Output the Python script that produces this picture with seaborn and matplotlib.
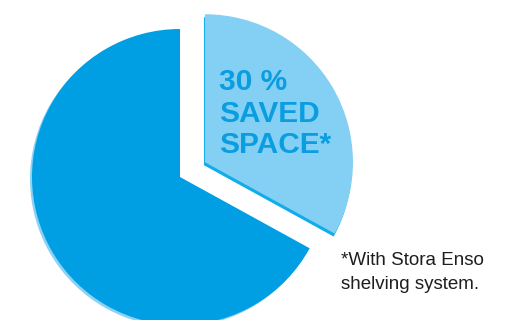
import matplotlib
matplotlib.use("Agg")
import matplotlib.pyplot as plt
import seaborn as sns

# Data
labels = ["Saved space", "Remaining space"]
values = [33, 67]
label_lines = ["30 %", "SAVED", "SPACE*"]
footnote_lines = ["*With Stora Enso", "shelving system."]

colors = ["#84CFF4", "#009FE3"]
shadow_colors = ["#12ACEB", "#8DD2F4"]

sns.set_theme(style="white")
plt.rcParams['font.family'] = ['Liberation Sans', 'DejaVu Sans']

W, H = 513, 320
fig = plt.figure(figsize=(W / 100, H / 100), dpi=100)
ax = fig.add_axes([0, 0, 1, 1])

cx, cy, r = 180, H - 177, 148
explode = [29, 0.0]  # matplotlib explode is in data units

# shadow / rim layers
ax.pie(values, colors=[shadow_colors[0], "none"], startangle=90, counterclock=False,
       explode=explode, radius=r, center=(cx - 1, cy - 3),
       wedgeprops=dict(linewidth=0), frame=True)
ax.pie(values, colors=["none", shadow_colors[1]], startangle=90, counterclock=False,
       explode=explode, radius=r, center=(cx - 2, cy - 2),
       wedgeprops=dict(linewidth=0), frame=True)
# main pie
ax.pie(values, colors=colors, startangle=90, counterclock=False,
       explode=explode, radius=r, center=(cx, cy),
       wedgeprops=dict(linewidth=0), frame=True)

ax.set_xlim(0, W)
ax.set_ylim(0, H)
ax.set_aspect("equal")
ax.axis("off")

baselines = [90, 122, 153]
for line, b in zip(label_lines, baselines):
    ax.text(219, H - b, line, fontsize=21.5, fontweight="bold", color="#0A9DE0",
            ha="left", va="baseline")

for line, b in zip(footnote_lines, [265, 289]):
    ax.text(341, H - b, line, fontsize=13.5, color="#1E1E1E", ha="left", va="baseline")

fig.savefig("out.png", dpi=100)
